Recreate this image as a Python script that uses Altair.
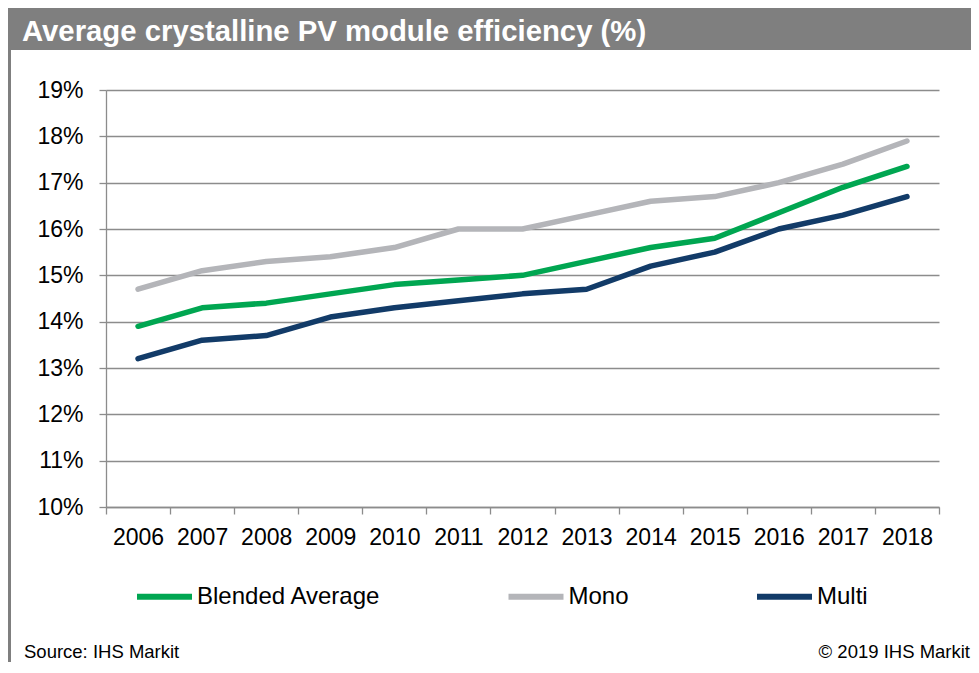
import altair as alt
import pandas as pd

years = ["2006", "2007", "2008", "2009", "2010", "2011", "2012",
         "2013", "2014", "2015", "2016", "2017", "2018"]
blended = [13.9, 14.3, 14.4, 14.6, 14.8, 14.9, 15.0, 15.3, 15.6, 15.8, 16.35, 16.9, 17.35]
mono = [14.7, 15.1, 15.3, 15.4, 15.6, 16.0, 16.0, 16.3, 16.6, 16.7, 17.0, 17.4, 17.9]
multi = [13.2, 13.6, 13.7, 14.1, 14.3, 14.45, 14.6, 14.7, 15.2, 15.5, 16.0, 16.3, 16.7]
series_names = ["Blended Average", "Mono", "Multi"]
series_colors = ["#00A651", "#B4B5B9", "#123B68"]
title_text = "Average crystalline PV module efficiency (%)"
source_text = "Source: IHS Markit"
copyright_text = "© 2019 IHS Markit"

rows = []
for name, vals in zip(series_names, [blended, mono, multi]):
    for y, v in zip(years, vals):
        rows.append({"year": y, "value": v, "series": name})
df = pd.DataFrame(rows)

FONT = "Liberation Sans"
W, H = 833, 417
PAD = {"left": 98, "top": 82, "right": 32, "bottom": 155}

one = alt.Data(values=[{"k": 1}])

bar = alt.Chart(one).mark_rect(color="#7F7F7F").encode(
    x=alt.value(-PAD["left"]), x2=alt.value(W + PAD["right"]),
    y=alt.value(-PAD["top"]), y2=alt.value(-40),
)
border = alt.Chart(one).mark_rule(color="#7F7F7F", strokeWidth=3).encode(
    x=alt.value(-96.5), y=alt.value(-41), y2=alt.value(H + PAD["bottom"]),
)
title = alt.Chart(one).mark_text(
    align="left", baseline="alphabetic", font=FONT, fontSize=29.3,
    fontWeight="bold", color="white",
).encode(x=alt.value(-84), y=alt.value(-49), text=alt.value(title_text))
source = alt.Chart(one).mark_text(
    align="left", baseline="alphabetic", font=FONT, fontSize=18.5, color="black",
).encode(x=alt.value(-82), y=alt.value(568), text=alt.value(source_text))
copy = alt.Chart(one).mark_text(
    align="right", baseline="alphabetic", font=FONT, fontSize=18.5, color="black",
).encode(x=alt.value(W + PAD["right"] - 1), y=alt.value(568), text=alt.value(copyright_text))

lines = alt.Chart(df).mark_line(
    strokeWidth=5.5, strokeCap="round", strokeJoin="round"
).encode(
    x=alt.X("year:N", sort=years,
            scale=alt.Scale(paddingInner=0, paddingOuter=0),
            axis=alt.Axis(title=None, labelAngle=0, tickBand="extent", grid=False,
                          labelFontSize=23, labelFont=FONT, labelColor="black",
                          labelPadding=12, tickSize=7, tickColor="#8C8C8C",
                          domainColor="#8C8C8C", domainWidth=1.3, tickWidth=1.3)),
    y=alt.Y("value:Q", scale=alt.Scale(domain=[10, 19], nice=False, zero=False),
            axis=alt.Axis(title=None, values=list(range(10, 20)),
                          labelExpr="datum.value + '%'",
                          labelFontSize=23, labelFont=FONT, labelColor="black",
                          labelPadding=16, tickSize=7, tickColor="#8C8C8C",
                          domainColor="#8C8C8C", domainWidth=1.3, tickWidth=1.3,
                          grid=True, gridColor="#8C8C8C", gridWidth=1.3)),
    color=alt.Color("series:N", sort=series_names,
                    scale=alt.Scale(domain=series_names, range=series_colors),
                    legend=alt.Legend(orient="none", legendX=28, legendY=476,
                                      direction="horizontal", title=None,
                                      symbolType="stroke", symbolSize=3025,
                                      symbolStrokeWidth=6, labelFontSize=24,
                                      labelFont=FONT, labelColor="black",
                                      labelOffset=2, columnPadding=115.5,
                                      padding=0, labelLimit=0)),
)

chart = alt.layer(bar, border, title, lines, source, copy).properties(
    width=W, height=H, padding=PAD, autosize=alt.AutoSizeParams(type="none"),
).configure_view(stroke=None)

chart.save("out.html", embed_options={"renderer": "svg", "actions": False})
